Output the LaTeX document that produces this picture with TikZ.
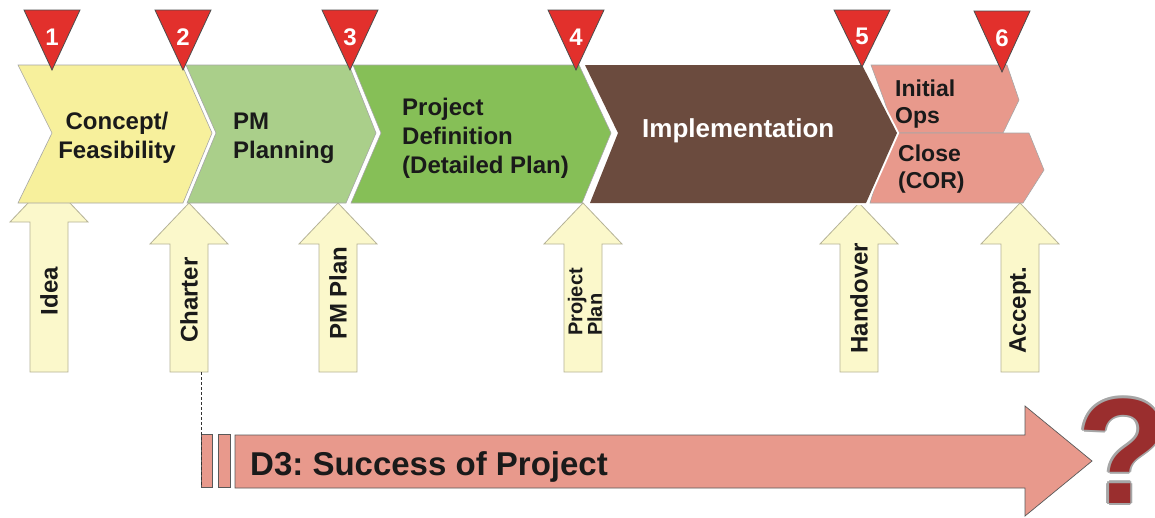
\documentclass[tikz,border=0pt]{standalone}
\usepackage{fontspec}
\setmainfont{Liberation Sans}
\definecolor{cyel}{HTML}{F7F09C}
\definecolor{clgreen}{HTML}{AACF8A}
\definecolor{cgreen}{HTML}{86BF57}
\definecolor{cbrown}{HTML}{6B4B3E}
\definecolor{cpink}{HTML}{E8998C}
\definecolor{afill}{HTML}{FBF8CB}
\definecolor{aline}{HTML}{B5B296}
\definecolor{cred}{HTML}{E2302C}
\definecolor{cq}{HTML}{9A2E2E}
\definecolor{txt}{HTML}{1A1A1A}
\newcommand\myuparrow[2]{%
  \draw[uparrow] (#1-19,372) -- (#1-19,#2) -- (#1-39,#2) -- (#1,#2-41) -- (#1+39,#2) -- (#1+19,#2) -- (#1+19,372) -- cycle;}
\frenchspacing
\begin{document}
\begin{tikzpicture}[x=1pt,y=-1pt,
  chev/.style={draw=black!35, line width=0.6pt},
  uparrow/.style={fill=afill, draw=aline, line width=0.8pt},
  tri/.style={fill=cred, draw=black!70, line width=0.8pt},
  num/.style={text=white, font=\fontsize{24}{24}\selectfont\bfseries, inner sep=0},
  lab/.style={font=\fontsize{24}{29}\selectfont\bfseries, inner sep=0, text=txt},
  vlab/.style={font=\fontsize{24}{24}\selectfont\bfseries, inner sep=0, rotate=90, text=txt},
  qm/.style={font=\fontsize{150}{150}\selectfont\bfseries, inner sep=0, anchor=base west}]
\useasboundingbox (0,0) rectangle (1155,517);
\fill[white] (0,0) rectangle (1155,517);
% input arrows
\myuparrow{49}{222}
\myuparrow{189}{244}
\myuparrow{338}{244}
\myuparrow{583}{244}
\myuparrow{859}{244}
\myuparrow{1020}{244}
% chevrons
\draw[chev, fill=cyel] (18,65) -- (182,65) -- (212,133) -- (183,203) -- (18,203) -- (52,133) -- cycle;
\draw[chev, fill=clgreen] (186,65) -- (349,65) -- (376,133) -- (346,203) -- (187,203) -- (216,133) -- cycle;
\draw[chev, fill=cgreen] (353,65) -- (579,65) -- (611,133) -- (582,203) -- (351,203) -- (381,133) -- cycle;
\draw[chev, fill=cpink] (871,65) -- (1007,65) -- (1019,100) -- (1003,133) -- (895,133) -- (884,100) -- cycle;
\draw[chev, fill=cpink] (886,133) -- (1029,133) -- (1044,170) -- (1023,203) -- (870,203) -- (880,170) -- cycle;
\draw[fill=cbrown, draw=white, line width=4pt] (585,65) -- (862,65) -- (897,133) -- (866,203) -- (590,203) -- (618,133) -- cycle;
\fill[cbrown] (585,65) -- (862,65) -- (897,133) -- (866,203) -- (590,203) -- (618,133) -- cycle;
% milestones
\draw[tri] (24,10) -- (80,10) -- (52,70) -- cycle;
\draw[tri] (155,10) -- (211,10) -- (183,70) -- cycle;
\draw[tri] (322,10) -- (378,10) -- (350,70) -- cycle;
\draw[tri] (548,10) -- (604,10) -- (576,70) -- cycle;
\draw[tri] (834,10) -- (890,10) -- (862,67) -- cycle;
\draw[tri] (974,11) -- (1030,11) -- (1002,72) -- cycle;
\node[num] (m1) at (52,37) {1};
\node[num] (m2) at (183,37) {2};
\node[num] (m3) at (350,37) {3};
\node[num] (m4) at (576,37) {4};
\node[num] (m5) at (862,36) {5};
\node[num] (m6) at (1002,38) {6};
% phase labels
\node[lab, align=center] (p1) at (117,138) {Concept/\\Feasibility};
\node[lab, align=left, anchor=west] (p2) at (233,138) {PM\\Planning};
\node[lab, align=left, anchor=west] (p3) at (402,138) {Project\\Definition\\(Detailed Plan)};
\node[lab, anchor=base west, text=white, font=\fontsize{26}{29}\selectfont\bfseries] (p4) at (642,137) {Implementation};
\node[lab, align=left, anchor=west, font=\fontsize{23}{27}\selectfont\bfseries] (p5) at (895,104) {Initial\\Ops};
\node[lab, align=left, anchor=west, font=\fontsize{23}{27}\selectfont\bfseries] (p6) at (898,169) {Close\\(COR)};
% input labels
\node[vlab] (idea) at (49,291) {Idea};
\node[vlab] (charter) at (189,300) {Charter};
\node[vlab] (pmplan) at (338,293) {PM Plan};
\node[vlab, align=left, font=\fontsize{20}{17}\selectfont\bfseries] (pplan) at (585,302) {Project\\Plan};
\node[vlab] (handover) at (859,298) {Handover};
\node[vlab] (accept) at (1020,310) {Accept.};
% D3 arrow
\draw[fill=cpink, draw=black!65, line width=0.7pt] (201,434) rectangle (212,487);
\draw[fill=cpink, draw=black!65, line width=0.7pt] (218,434) rectangle (230,487);
\draw[fill=cpink, draw=black!65, line width=0.7pt] (235,435) -- (1025,435) -- (1025,406) -- (1092,461) -- (1025,516) -- (1025,488) -- (235,488) -- cycle;
\coordinate (chb) at (201,372);
\coordinate (dsb) at (201,487);
\draw[dashed, black!80, line width=1pt, dash pattern=on 3pt off 2pt] (chb) -- (dsb);
\node[anchor=base west, inner sep=0, text=txt, font=\fontsize{33}{33}\selectfont\bfseries] (d3) at (250,475) {D3: Success of Project};
% question mark
\coordinate (qpos) at (1077,503);
\foreach \a in {0,45,...,315} \node[qm, text=black!35, shift={(\a:2.5)}] at (qpos) {?};
\node[qm, text=cq] (q) at (qpos) {?};
\end{tikzpicture}
\end{document}
